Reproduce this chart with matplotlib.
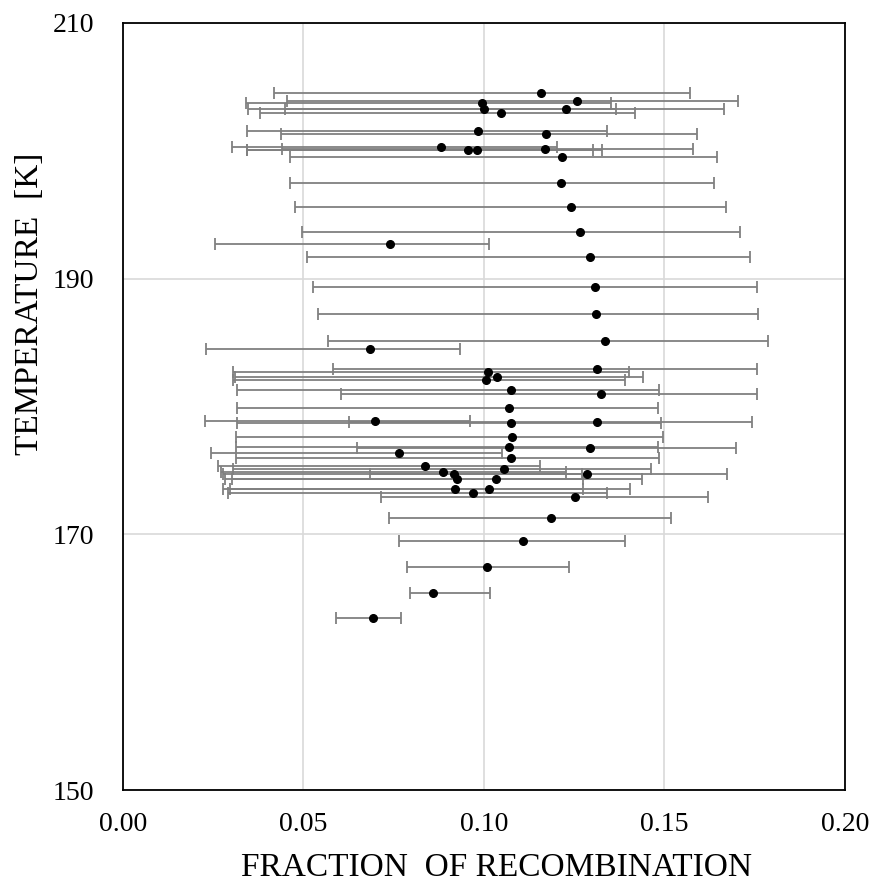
import matplotlib
matplotlib.use('Agg')
import matplotlib.pyplot as plt
import numpy as np

plt.rcParams['font.family'] = ['Liberation Serif', 'DejaVu Serif']

# temperature [K], fraction, lower end of bar, upper end of bar
temp = [204.55, 203.92, 203.72, 203.30, 203.30, 202.93, 201.55, 201.29, 200.27, 200.04,
        200.04, 200.17, 199.49, 197.46, 195.58, 193.65, 192.68, 191.67, 189.37, 187.23,
        185.12, 184.47, 182.93, 182.72, 182.32, 182.07, 181.28, 180.97, 179.90, 178.88,
        178.67, 178.80, 177.63, 176.85, 176.72, 176.38, 175.99, 175.34, 175.08, 174.84,
        174.71, 174.71, 174.32, 174.32, 173.54, 173.54, 173.20, 172.93, 171.29, 169.49,
        167.46, 165.45, 163.42]
frac = [0.1158, 0.1257, 0.0994, 0.1001, 0.1226, 0.1046, 0.0984, 0.1172, 0.0881, 0.0957,
        0.0981, 0.1168, 0.1217, 0.1213, 0.1240, 0.1267, 0.0741, 0.1294, 0.1307, 0.1310,
        0.1335, 0.0684, 0.1314, 0.1012, 0.1037, 0.1006, 0.1074, 0.1324, 0.1070, 0.0698,
        0.1074, 0.1314, 0.1079, 0.1069, 0.1294, 0.0765, 0.1074, 0.0837, 0.1056, 0.0886,
        0.0917, 0.1284, 0.0926, 0.1033, 0.0920, 0.1015, 0.0970, 0.1253, 0.1186, 0.1109,
        0.1007, 0.0860, 0.0693]
low = [0.0419, 0.0455, 0.0340, 0.0347, 0.0448, 0.0380, 0.0344, 0.0437, 0.0303, 0.0344,
       0.0344, 0.0441, 0.0463, 0.0463, 0.0477, 0.0496, 0.0254, 0.0509, 0.0527, 0.0540,
       0.0567, 0.0231, 0.0581, 0.0305, 0.0310, 0.0305, 0.0317, 0.0604, 0.0317, 0.0227,
       0.0317, 0.0627, 0.0312, 0.0312, 0.0647, 0.0245, 0.0312, 0.0262, 0.0306, 0.0271,
       0.0278, 0.0684, 0.0282, 0.0301, 0.0276, 0.0296, 0.0290, 0.0715, 0.0738, 0.0765,
       0.0787, 0.0796, 0.0590]
high = [0.1570, 0.1705, 0.1352, 0.1366, 0.1665, 0.1419, 0.1342, 0.1589, 0.1203, 0.1301,
        0.1327, 0.1580, 0.1646, 0.1638, 0.1670, 0.1709, 0.1015, 0.1737, 0.1755, 0.1760,
        0.1786, 0.0934, 0.1755, 0.1402, 0.1441, 0.1392, 0.1486, 0.1755, 0.1481, 0.0961,
        0.1490, 0.1742, 0.1495, 0.1481, 0.1697, 0.1051, 0.1486, 0.1155, 0.1463, 0.1226,
        0.1271, 0.1674, 0.1275, 0.1437, 0.1275, 0.1405, 0.1342, 0.1621, 0.1517, 0.1391,
        0.1235, 0.1017, 0.0769]

x = np.array(frac)
y = np.array(temp)
xerr = [x - np.array(low), np.array(high) - x]

fig = plt.figure(figsize=(8.74, 8.83), dpi=100)
ax = fig.add_axes([0.1407, 0.1053, 0.8261, 0.8687])

ax.errorbar(x, y, xerr=xerr, fmt='none', ecolor='#808080', elinewidth=1.3,
            capsize=4, capthick=1.3, zorder=2)
ax.plot(x, y, 'o', color='black', markersize=5.5, zorder=3)

ax.set_xlim(0, 0.20)
ax.set_ylim(150, 210)
ax.set_xticks([0.00, 0.05, 0.10, 0.15, 0.20])
ax.set_xticklabels(['0.00', '0.05', '0.10', '0.15', '0.20'])
ax.set_yticks([150, 170, 190, 210])
ax.grid(True, color='#d9d9d9', linewidth=1.2, zorder=0)
ax.set_axisbelow(True)
ax.tick_params(length=0, labelsize=20)
ax.tick_params(axis='y', pad=21)
ax.tick_params(axis='x', pad=16)
for s in ax.spines.values():
    s.set_linewidth(1.3)
    s.set_color('black')

ax.set_xlabel('FRACTION  OF RECOMBINATION', fontsize=24)
ax.set_ylabel('TEMPERATURE  [K]', fontsize=24)
ax.xaxis.set_label_coords(0.518, -0.082)
ax.yaxis.set_label_coords(-0.108, 0.634)

plt.savefig('out.png', dpi=100)
